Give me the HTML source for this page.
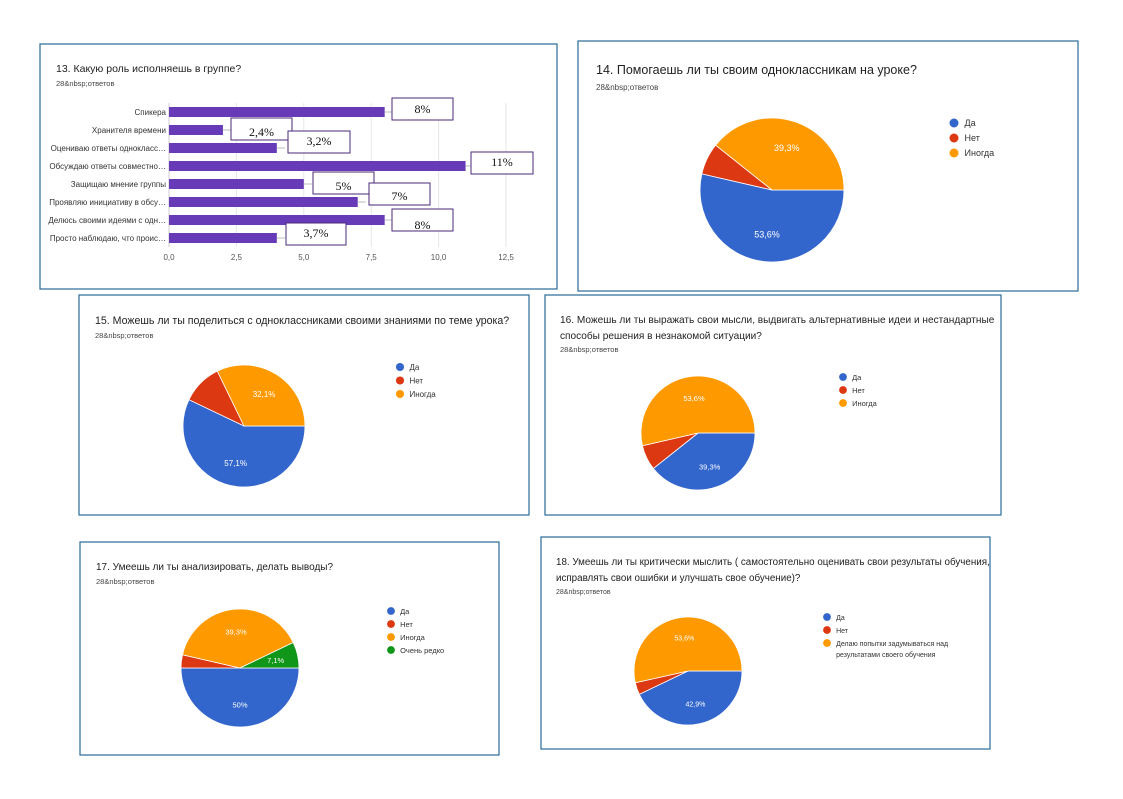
<!DOCTYPE html>
<html><head><meta charset="utf-8"><style>
html,body{margin:0;padding:0;background:#fff;}
svg text{font-family:"Liberation Sans","Noto Sans CJK SC",sans-serif;}
</style></head><body>
<svg id="s" width="1123" height="794" xmlns="http://www.w3.org/2000/svg">
<rect width="1123" height="794" fill="#fff"/>
<g fill="#fff" stroke="#2a6a96" stroke-width="1.2">
<rect x="40" y="44" width="517" height="245"/>
<rect x="578" y="41" width="500" height="250"/>
<rect x="79" y="295" width="450" height="220"/>
<rect x="545" y="295" width="456" height="220"/>
<rect x="80" y="542" width="419" height="213"/>
<rect x="541" y="537" width="449" height="212"/>
</g>
<text x="56" y="72" font-size="10.5" fill="#222">13. Какую роль исполняешь в группе?</text>
<text x="56" y="86" font-size="7.5" fill="#444">28&amp;nbsp;ответов</text>
<g id="bars"></g>
<text x="596" y="74" font-size="12.5" fill="#222">14. Помогаешь ли ты своим одноклассникам на уроке?</text>
<text x="596" y="90" font-size="8" fill="#444">28&amp;nbsp;ответов</text>
<text x="95" y="324" font-size="10.6" fill="#222">15. Можешь ли ты поделиться с одноклассниками своими знаниями по теме урока?</text>
<text x="95" y="338" font-size="7.5" fill="#444">28&amp;nbsp;ответов</text>
<text x="560" y="323" font-size="10.1" fill="#222">16. Можешь ли ты выражать свои мысли, выдвигать альтернативные идеи и нестандартные</text>
<text x="560" y="339" font-size="10.1" fill="#222">способы решения в незнакомой ситуации?</text>
<text x="560" y="352" font-size="7.5" fill="#444">28&amp;nbsp;ответов</text>
<text x="96" y="570" font-size="10" fill="#222">17. Умеешь ли ты анализировать, делать выводы?</text>
<text x="96" y="584" font-size="7.5" fill="#444">28&amp;nbsp;ответов</text>
<text x="556" y="565" font-size="9.8" fill="#222">18. Умеешь ли ты критически мыслить ( самостоятельно оценивать свои результаты обучения,</text>
<text x="556" y="581" font-size="9.8" fill="#222">исправлять свои ошибки и улучшать свое обучение)?</text>
<text x="556" y="594" font-size="7" fill="#444">28&amp;nbsp;ответов</text>
<g id="pies"></g>
</svg>
<script>
var NS="http://www.w3.org/2000/svg";
function el(p,t,a,txt){var e=document.createElementNS(NS,t);for(var k in a)e.setAttribute(k,a[k]);if(txt!==undefined)e.textContent=txt;p.appendChild(e);return e;}
var B=document.getElementById('bars');
var x0=169,sc=26.96;
[0,2.5,5,7.5,10,12.5].forEach(function(v,i){var x=x0+v*sc;el(B,'line',{x1:x,x2:x,y1:103,y2:247,stroke:i?'#e6e6e6':'#ccc','stroke-width':1});el(B,'text',{x:x,y:260,'font-size':8,fill:'#555','text-anchor':'middle'},['0,0','2,5','5,0','7,5','10,0','12,5'][i]);});
var cats=['Спикера','Хранителя времени','Оцениваю ответы однокласс…','Обсуждаю ответы совместно…','Защищаю мнение группы','Проявляю инициативу в обсу…','Делюсь своими идеями с одн…','Просто наблюдаю, что проис…'];
var vals=[8,2,4,11,5,7,8,4];
cats.forEach(function(c,i){var y=112+i*18;el(B,'text',{x:166,y:y+3,'font-size':8,fill:'#333','text-anchor':'end'},c);el(B,'rect',{x:x0,y:y-5,width:vals[i]*sc,height:10,fill:'#673ab7'});el(B,'line',{x1:x0+vals[i]*sc,x2:x0+vals[i]*sc+8,y1:y,y2:y,stroke:'#bbb'});});
var boxes=[[392,98,61,22,'8%',113],[231,118,61,22,'2,4%',136],[288,131,62,22,'3,2%',145],[471,152,62,22,'11%',166],[313,172,61,22,'5%',190],[369,183,61,22,'7%',200],[392,209,61,22,'8%',229],[286,223,60,22,'3,7%',237]];
boxes.forEach(function(b){el(B,'rect',{x:b[0],y:b[1],width:b[2],height:b[3],fill:'#fff',stroke:'#4a2a7a','stroke-width':1});el(B,'text',{x:b[0]+b[2]/2,y:b[5],'font-size':12,fill:'#111','text-anchor':'middle',style:'font-family:"Liberation Serif",serif'},b[4]);});
var P=document.getElementById('pies');
var C={b:'#3366cc',r:'#dc3912',o:'#ff9900',g:'#109618'};
function pie(cx,cy,r,sl,leg,lx,ly,ld,fs){var a=0;sl.forEach(function(s){var a2=a+s[1]*3.6;var r1=a*Math.PI/180,r2=a2*Math.PI/180;
var d='M'+cx+','+cy+'L'+(cx+r*Math.cos(r1))+','+(cy+r*Math.sin(r1))+'A'+r+','+r+' 0 '+((a2-a)>180?1:0)+' 1 '+(cx+r*Math.cos(r2))+','+(cy+r*Math.sin(r2))+'Z';
el(P,'path',{d:d,fill:C[s[0]],stroke:'#fff','stroke-width':0.8});
if(s[2]){var m=(a+a2)/2*Math.PI/180;el(P,'text',{x:cx+0.62*r*Math.cos(m),y:cy+0.62*r*Math.sin(m)+3,'font-size':fs,fill:'#fff','text-anchor':'middle'},s[2]);}
a=a2;});
leg.forEach(function(l,i){var y=ly+i*ld;el(P,'circle',{cx:lx,cy:y,r:ld*0.3,fill:C[l[0]]});l[1].split('|').forEach(function(t,j){el(P,'text',{x:lx+ld*0.7,y:y+3+j*11,'font-size':fs,fill:'#333'},t);});});}
pie(772,190,72,[['b',53.6,'53,6%'],['r',7.1],['o',39.3,'39,3%']],[['b','Да'],['r','Нет'],['o','Иногда']],954,123,15,9);
pie(244,426,61,[['b',57.1,'57,1%'],['r',10.7],['o',32.2,'32,1%']],[['b','Да'],['r','Нет'],['o','Иногда']],400,367,13.5,8);
pie(698,433,57,[['b',39.3,'39,3%'],['r',7.1],['o',53.6,'53,6%']],[['b','Да'],['r','Нет'],['o','Иногда']],843,377,13,7.5);
pie(240,668,59,[['b',50,'50%'],['r',3.6],['o',39.3,'39,3%'],['g',7.1,'7,1%']],[['b','Да'],['r','Нет'],['o','Иногда'],['g','Очень редко']],391,611,13,7.5);
pie(688,671,54,[['b',42.9,'42,9%'],['r',3.6],['o',53.5,'53,6%']],[['b','Да'],['r','Нет'],['o','Делаю попытки задумываться над|результатами своего обучения']],827,617,13,7);
</script>
</body></html>
